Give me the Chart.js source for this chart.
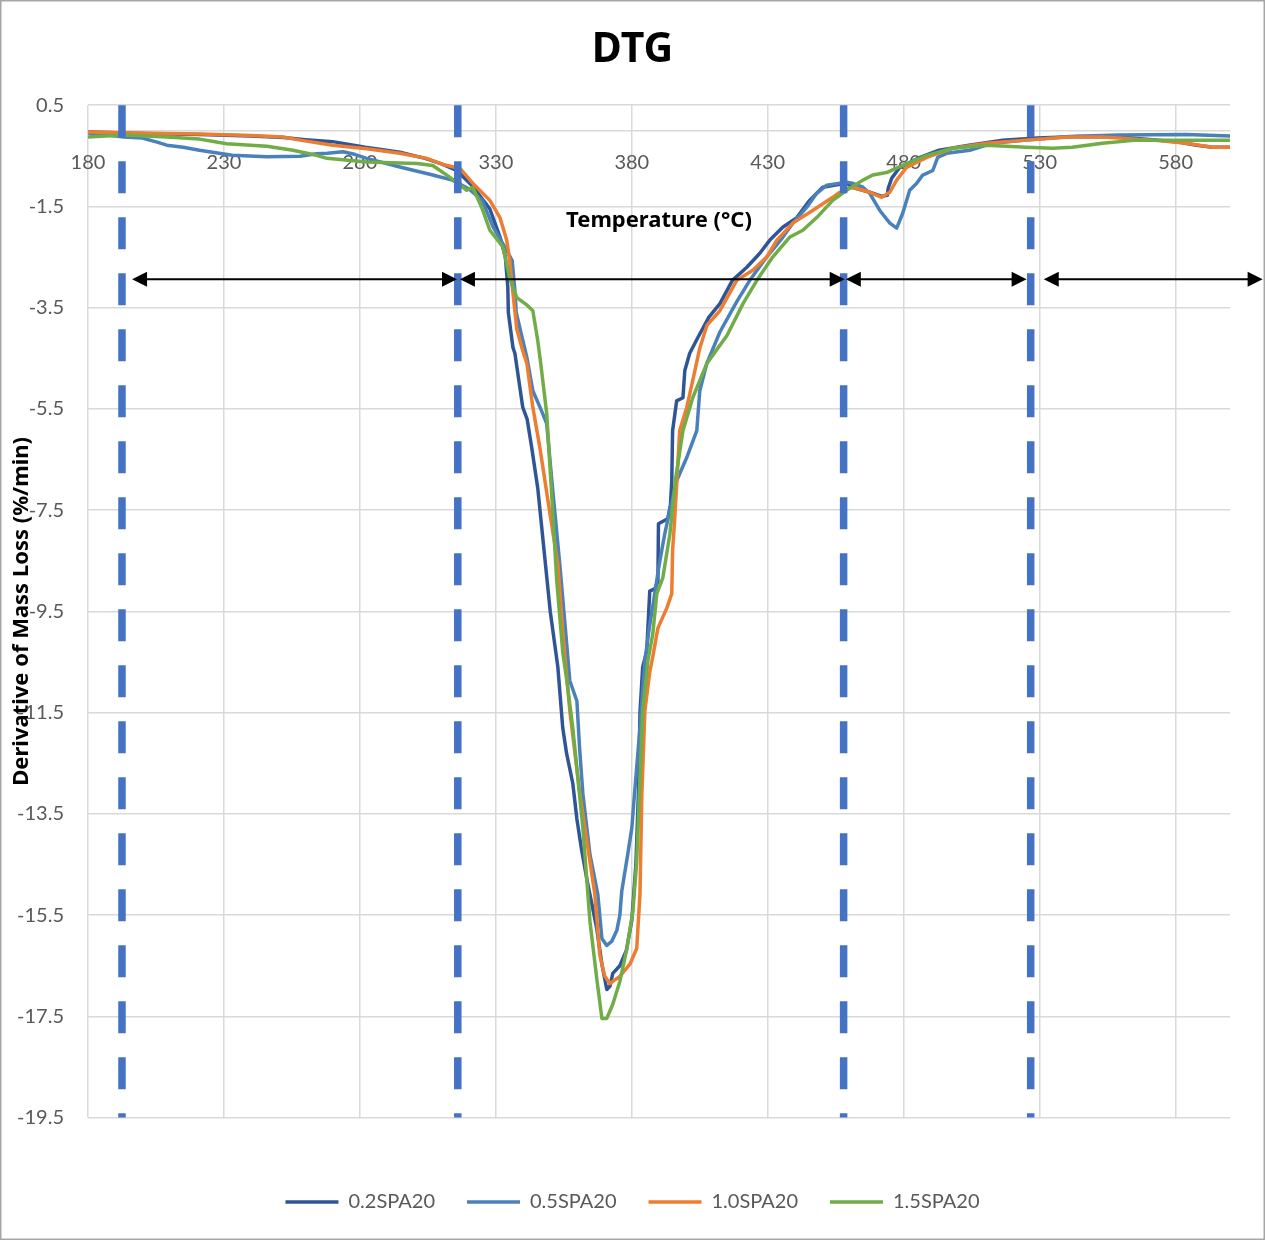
<!DOCTYPE html>
<html>
<head>
<meta charset="utf-8">
<title>DTG</title>
<script src="https://cdn.jsdelivr.net/npm/chart.js@4/dist/chart.umd.min.js"></script>
<style>
  html, body { margin: 0; padding: 0; background: #fff; }
  #wrap { width: 1265px; height: 1240px; }
</style>
</head>
<body>
<div id="wrap"><canvas id="dtgChart"></canvas></div>
<script>
// axis ticks
const xTicks = [180, 230, 280, 330, 380, 430, 480, 530, 580];
const yTicks = [0.5, -1.5, -3.5, -5.5, -7.5, -9.5, -11.5, -13.5, -15.5, -17.5, -19.5];

// 0.2SPA20
const temp02 = [180, 200, 221, 240, 252, 260, 270, 282, 294.7, 304, 310, 315.6, 321.5, 327.8, 331.5, 333.5, 334.4, 334.6, 336.3, 337, 339.9, 341.5, 343.2, 345.4, 348, 350, 352.8, 354.6, 356, 358.3, 359.8, 361.5, 363.5, 365, 367.1, 369, 370.8, 372, 373, 375.6, 378, 380, 381.5, 382.5, 383, 384, 385.5, 386.6, 388.5, 389.6, 389.8, 393.2, 394.2, 394.7, 395, 396.5, 398.8, 399.5, 401.3, 404.3, 408.3, 412.4, 417, 422.3, 427, 430.7, 435.5, 440.7, 445.4, 450.2, 456.5, 459, 461, 467.5, 472, 474, 474.3, 475.6, 478.5, 486, 493, 504, 516.4, 529, 544.7, 559, 571.5, 580, 587.7, 593.6, 600];
const dtg02 = [-0.03, -0.06, -0.08, -0.11, -0.14, -0.18, -0.22, -0.33, -0.43, -0.55, -0.66, -0.79, -1.1, -1.55, -2.1, -2.5, -3.1, -3.6, -4.29, -4.4, -5.47, -5.7, -6.27, -7.06, -8.44, -9.5, -10.6, -11.8, -12.3, -12.9, -13.6, -14.2, -14.8, -15.2, -15.76, -16.47, -16.97, -16.9, -16.65, -16.5, -16.2, -15.6, -14.5, -13, -11.5, -10.6, -10.28, -9.1, -9.05, -8.9, -7.77, -7.67, -7.4, -6.92, -5.93, -5.34, -5.28, -4.74, -4.4, -4.09, -3.69, -3.42, -2.96, -2.7, -2.43, -2.17, -1.91, -1.72, -1.38, -1.12, -1.06, -1.04, -1.12, -1.22, -1.3, -1.28, -1.14, -0.94, -0.73, -0.53, -0.39, -0.29, -0.19, -0.15, -0.12, -0.13, -0.18, -0.22, -0.29, -0.33, -0.33];

// 0.5SPA20
const temp05 = [180, 186, 193, 200, 205.4, 209, 215, 221, 233, 245.8, 258, 264, 268, 273.8, 278, 282.5, 294.7, 306.8, 314, 320, 325, 329, 334, 336, 337, 337.5, 341.4, 343.6, 346.5, 348.7, 350.6, 353.5, 355.5, 357.2, 359.8, 360.8, 362, 364.6, 367.5, 369, 370.8, 372.6, 374.5, 375.6, 376.3, 378.5, 380, 381, 383, 384.8, 386.5, 388, 390, 392, 394, 396.5, 400.2, 403.9, 405, 407.6, 412.4, 418.6, 423.4, 429.6, 435.5, 439.2, 444.3, 448, 451.7, 459, 461, 465, 467.5, 471.2, 474.9, 477.4, 479.6, 482.2, 484.8, 487, 490.7, 492.5, 495.8, 504.3, 512.7, 525, 541, 559, 584, 600];
const dtg05 = [-0.05, -0.08, -0.13, -0.15, -0.23, -0.29, -0.33, -0.39, -0.49, -0.52, -0.51, -0.46, -0.45, -0.42, -0.47, -0.55, -0.72, -0.88, -0.98, -1.15, -1.38, -1.91, -2.37, -2.57, -3.16, -3.6, -4.48, -5.14, -5.5, -5.79, -6.92, -8.56, -9.8, -10.87, -11.27, -12.2, -13.1, -14.3, -15.09, -15.96, -16.1, -16.02, -15.8, -15.5, -15.03, -14.3, -13.78, -13.1, -11.8, -10.48, -9.8, -9.3, -8.6, -8.0, -7.5, -6.92, -6.46, -5.93, -5.14, -4.6, -3.98, -3.38, -2.96, -2.5, -2.11, -1.83, -1.52, -1.24, -1.08, -1.02, -1.04, -1.12, -1.24, -1.58, -1.83, -1.93, -1.64, -1.18, -1.04, -0.88, -0.79, -0.53, -0.45, -0.39, -0.25, -0.19, -0.12, -0.09, -0.08, -0.11];

// 1.0SPA20
const temp10 = [180, 196.5, 221, 240, 251.7, 258, 270, 282.5, 294.7, 304.6, 310.5, 316.8, 321.5, 327.8, 331.5, 334, 335.1, 335.9, 337.7, 339.9, 341.4, 343.6, 346.2, 349.9, 352.8, 354.6, 357.2, 360.9, 364.6, 366.4, 368.2, 370, 371.9, 375.6, 379.3, 381.8, 383, 383.7, 384.8, 386.6, 387.7, 389.6, 392.9, 394.7, 395, 395.8, 396.5, 397.6, 400.2, 402.4, 405, 407.6, 412.4, 418.6, 424.5, 429.6, 433.3, 439.2, 446.5, 453.9, 456.5, 460, 461.3, 467.5, 471.9, 474.9, 477.4, 481, 488.5, 498, 510.5, 525, 541, 553, 571.5, 584, 593.6, 600];
const dtg10 = [-0.03, -0.05, -0.07, -0.1, -0.13, -0.19, -0.29, -0.36, -0.45, -0.55, -0.67, -0.75, -1.04, -1.38, -1.72, -2.17, -2.57, -3.02, -3.92, -4.35, -4.6, -5.47, -6.27, -7.57, -8.56, -9.89, -11.47, -13.1, -14.44, -15.09, -16.28, -16.7, -16.85, -16.71, -16.47, -16.16, -15.09, -13.1, -11.47, -10.7, -10.4, -9.83, -9.43, -9.15, -8.3, -7.65, -7.0, -5.93, -5.47, -4.94, -4.3, -3.85, -3.56, -2.96, -2.76, -2.5, -2.17, -1.83, -1.58, -1.32, -1.22, -1.14, -1.12, -1.22, -1.32, -1.22, -0.98, -0.73, -0.53, -0.35, -0.25, -0.19, -0.13, -0.13, -0.19, -0.25, -0.33, -0.33];

// 1.5SPA20
const temp15 = [180, 193, 209, 221, 231, 245.8, 255.4, 264, 267.9, 282.5, 301, 306.8, 313, 319.3, 321.5, 324.8, 327.8, 332.6, 335, 337.7, 341.5, 343.6, 345.4, 346.5, 348.7, 350.6, 352.4, 354.6, 356.1, 358.3, 362, 364.6, 367.1, 369, 370.8, 373, 375.6, 378.2, 380.4, 381.8, 383, 384, 385.9, 387.7, 389.2, 391.4, 394, 395.5, 396, 398.8, 402.4, 407.6, 415, 420.9, 426, 431.8, 438, 442.9, 448, 453.9, 459, 465, 468.6, 473.7, 479.6, 488.5, 498, 510.5, 525, 534.8, 542, 553, 565.6, 600];
const dtg15 = [-0.13, -0.09, -0.13, -0.17, -0.26, -0.31, -0.39, -0.49, -0.55, -0.62, -0.65, -0.69, -0.92, -1.18, -1.12, -1.52, -1.97, -2.3, -2.9, -3.3, -3.45, -3.56, -4.15, -4.6, -5.59, -7.25, -8.9, -10.3, -10.87, -11.8, -13.78, -15.62, -16.75, -17.54, -17.54, -17.26, -16.81, -16.16, -15.42, -14.44, -12.79, -11.47, -10.48, -9.95, -9.15, -8.84, -7.97, -7.2, -6.92, -5.93, -5.28, -4.6, -4.05, -3.42, -2.96, -2.5, -2.11, -1.97, -1.72, -1.38, -1.18, -0.98, -0.88, -0.83, -0.69, -0.49, -0.35, -0.29, -0.33, -0.35, -0.33, -0.25, -0.19, -0.19];

// stage boundaries (dashed verticals) and the arrows spanning each stage
const stageBounds = [192.5, 316.0, 457.9, 526.7];
const stageArrows = [[196.2, 315.7], [316.8, 458.3], [458.7, 525.2], [531.5, 612]];
const arrowLevel = -2.94;

const gridColor = '#D9D9D9';
const labelColor = '#595959';
const tickFont = { family: 'Lato', size: 20 };
const titleFont = { family: 'Noto Sans', size: 22, weight: 'bold' };

function points(xs, ys) {
  return xs.map((t, i) => ({ x: t, y: ys[i] }));
}

function series(label, xs, ys, color, order) {
  return {
    label, data: points(xs, ys), borderColor: color, backgroundColor: color,
    borderWidth: 3.5, borderCapStyle: 'round', borderJoinStyle: 'round',
    pointRadius: 0, tension: 0, fill: false, order,
    xAxisID: 'x', yAxisID: 'y'
  };
}

const stagePlugin = {
  id: 'stages',
  afterDatasetsDraw(chart) {
    const { ctx, scales: { x, y } } = chart;
    const top = y.getPixelForValue(yTicks[0]);
    const bottom = y.getPixelForValue(yTicks[yTicks.length - 1]);
    ctx.save();
    ctx.strokeStyle = '#4472C4';
    ctx.lineWidth = 7.5;
    ctx.setLineDash([32, 24]);
    stageBounds.forEach(t => {
      const px = x.getPixelForValue(t);
      ctx.beginPath();
      ctx.moveTo(px, top);
      ctx.lineTo(px, bottom);
      ctx.stroke();
    });
    ctx.setLineDash([]);

    // double-headed arrows
    const py = y.getPixelForValue(arrowLevel);
    const headLen = 15, headHalf = 7.5;
    ctx.strokeStyle = '#000';
    ctx.fillStyle = '#000';
    ctx.lineWidth = 2;
    const head = (tip, dir) => {
      ctx.beginPath();
      ctx.moveTo(tip, py);
      ctx.lineTo(tip + dir * headLen, py - headHalf);
      ctx.lineTo(tip + dir * headLen, py + headHalf);
      ctx.closePath();
      ctx.fill();
    };
    stageArrows.forEach(([a, b]) => {
      const x0 = x.getPixelForValue(a);
      const x1 = x.getPixelForValue(b);
      ctx.beginPath();
      ctx.moveTo(x0 + headLen - 2, py);
      ctx.lineTo(x1 - headLen + 2, py);
      ctx.stroke();
      head(x0, 1);
      head(x1, -1);
    });
    ctx.restore();
  },
  afterDraw(chart) {
    // outer frame
    const { ctx, width, height } = chart;
    ctx.save();
    ctx.strokeStyle = '#A6A6A6';
    ctx.lineWidth = 1.5;
    ctx.strokeRect(0.75, 0.75, width - 1.5, height - 1.5);
    ctx.restore();
  }
};

new Chart(document.getElementById('dtgChart'), {
  type: 'line',
  data: {
    datasets: [
      series('0.2SPA20', temp02, dtg02, '#2F5597', 4),
      series('0.5SPA20', temp05, dtg05, '#4A81BA', 3),
      series('1.0SPA20', temp10, dtg10, '#ED7D31', 2),
      series('1.5SPA20', temp15, dtg15, '#70AD47', 1)
    ]
  },
  options: {
    responsive: true,
    maintainAspectRatio: false,
    animation: false,
    layout: { padding: { left: 0, right: 0, top: 0, bottom: 18 } },
    scales: {
      x: {
        type: 'linear',
        min: 180,
        max: 600,
        position: { y: 0 },
        afterBuildTicks: s => { s.ticks = xTicks.map(v => ({ value: v })); },
        grid: { color: gridColor, lineWidth: 1.5, drawTicks: false },
        border: { color: gridColor, width: 1.5 },
        ticks: { padding: 20, color: labelColor, font: tickFont, maxRotation: 0 },
        title: {
          display: true, text: 'Temperature (°C)', color: '#000', font: titleFont,
          padding: { top: 13, bottom: 0 }
        }
      },
      y: {
        type: 'linear',
        position: 'left',
        min: -19.5,
        max: 0.5,
        afterBuildTicks: s => { s.ticks = yTicks.map(v => ({ value: v })); },
        afterFit: s => { s.width = 88; },
        grid: { color: gridColor, lineWidth: 1.5, drawTicks: false },
        border: { display: false },
        ticks: { padding: 24, color: labelColor, font: tickFont, callback: v => v.toFixed(1) },
        title: {
          display: true, text: 'Derivative of Mass Loss (%/min)', color: '#000', font: titleFont,
          padding: { top: 9, bottom: 0 }
        }
      },
      // empty lane that keeps the plot clear of the right edge
      margin: {
        type: 'linear',
        position: 'right',
        grid: { display: false },
        border: { display: false },
        ticks: { display: false },
        afterFit: s => { s.width = 35; }
      }
    },
    plugins: {
      title: {
        display: true,
        text: 'DTG',
        color: '#000',
        font: { family: 'Noto Sans', size: 41, weight: 'bold' },
        padding: { top: 26, bottom: 30 }
      },
      legend: {
        position: 'bottom',
        title: { display: true, text: '', font: { size: 12 }, padding: { top: 28, bottom: 0 } },
        labels: {
          usePointStyle: true,
          pointStyle: 'line',
          pointStyleWidth: 53,
          padding: 32,
          color: labelColor,
          font: tickFont,
          sort: (a, b) => a.datasetIndex - b.datasetIndex
        }
      },
      tooltip: { enabled: false }
    }
  },
  plugins: [stagePlugin]
});
</script>
</body>
</html>
